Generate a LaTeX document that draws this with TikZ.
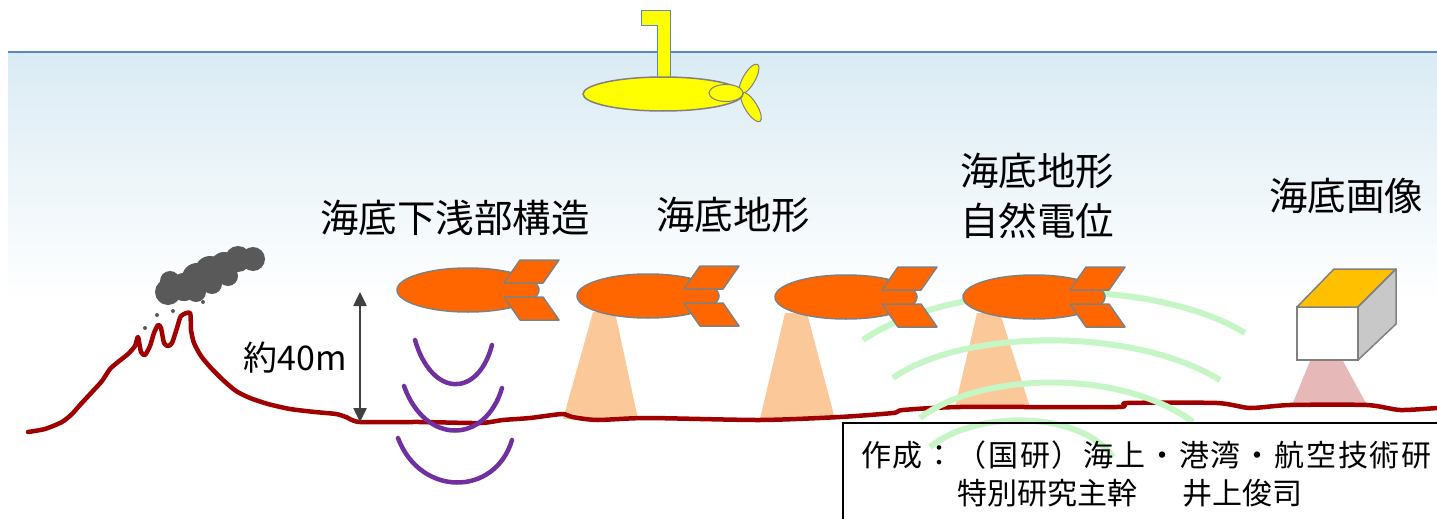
\documentclass[tikz,border=0pt]{standalone}
\usepackage{fontspec}
\setmainfont{Noto Sans CJK JP}
\usetikzlibrary{arrows.meta}

\definecolor{seablue}{RGB}{218,235,244}
\definecolor{surfline}{RGB}{91,135,199}
\definecolor{floatyellow}{RGB}{255,255,0}
\definecolor{auvorange}{RGB}{255,102,0}
\definecolor{rimgray}{RGB}{128,128,128}
\definecolor{beampeach}{RGB}{251,201,153}
\definecolor{camtop}{RGB}{255,192,0}
\definecolor{camside}{RGB}{200,200,200}
\definecolor{campink}{RGB}{230,184,183}
\definecolor{seabed}{RGB}{160,0,0}
\definecolor{sonar}{RGB}{112,48,160}
\definecolor{potential}{RGB}{198,245,198}
\definecolor{smoke}{RGB}{89,89,89}
\definecolor{arrowgray}{RGB}{64,64,64}

\begin{document}
\begin{tikzpicture}[x=1pt,y=-1pt,
  auv/.style={fill=auvorange,draw=rimgray,line width=1.5pt,line join=round},
  sonarwave/.style={draw=sonar,line width=4.5pt,line cap=round},
  fieldline/.style={draw=potential,line width=6pt},
  label/.style={inner sep=0pt,font=\fontsize{38.5}{50}\selectfont},
  credit/.style={inner sep=0pt,anchor=west,font=\fontsize{30}{36}\selectfont}]

  \useasboundingbox (0,0) rectangle (1437,519);

  %% sea
  \shade[top color=seablue,bottom color=white] (8,52) rectangle (1437,300);
  \draw[surfline,line width=2pt] (8,52) -- (1437,52);

  %% surface vehicle
  \draw[fill=floatyellow,draw=surfline,line width=1pt]
    (641,11) -- (670,11) -- (670,78) -- (657,78) -- (657,26) -- (641,26) -- cycle;
  \draw[fill=floatyellow,draw=rimgray,line width=1pt,rotate around={60:(749,79)}]
    (749,79) ellipse [x radius=17pt,y radius=6pt];
  \draw[fill=floatyellow,draw=rimgray,line width=1pt,rotate around={-58:(751,107)}]
    (751,107) ellipse [x radius=17pt,y radius=6pt];
  \draw[fill=floatyellow,draw=rimgray,line width=1.5pt] (663,94) ellipse [x radius=80pt,y radius=17pt];
  \draw[fill=floatyellow,draw=rimgray,line width=1pt] (726,93) ellipse [x radius=17pt,y radius=8.5pt];

  %% smoke
  \fill[smoke] (168,292) circle (13pt) (170,281) circle (10pt) (184,287) circle (14pt)
    (197,278) circle (15pt) (210,271) circle (15pt) (224,266) circle (14pt)
    (238,259) circle (13pt) (253,259) circle (12pt) (196,292) circle (10pt)
    (228,276) circle (10pt) (212,284) circle (10pt);
  \fill[smoke] (145,328) circle (2pt) (157,315) circle (2pt) (173,311) circle (2pt)
    (203,302) circle (2pt) (216,290) circle (2pt);

  %% beams
  \fill[beampeach] (593,312) -- (615,312) -- (638,419) -- (563,419) -- cycle;
  \fill[beampeach] (785,313) -- (807,313) -- (835,419) -- (760,419) -- cycle;
  \fill[beampeach] (977,313) -- (1000,313) -- (1030,407) -- (955,407) -- cycle;
  \fill[campink] (1310,361) -- (1343,361) -- (1367,405) -- (1292,405) -- cycle;

  %% seabed and volcano
  \draw[seabed,line width=4.5pt,line join=round,line cap=round] plot[smooth,tension=0.4] coordinates {
    (28,432) (45,429) (62,422) (72,414) (80,405) (92,392) (102,381) (110,369)
    (118,362) (128,354) (135,346) (138,337) (141,352) (145,355) (150,346) (154,333)
    (158,325) (161,328) (164,343) (168,346) (172,343) (177,328) (181,316) (190,313)
    (191,330) (194,343) (201,356) (211,368) (223,380) (236,391) (250,398) (268,404)
    (290,409) (315,412) (336,414) (346,417) (360,422) (420,422) (480,423) (503,420)
    (530,418) (562,414) (572,417) (597,420) (647,418) (760,420) (840,417) (893,413)
    (903,410) (960,407) (1117,407) (1127,403) (1217,403) (1250,408) (1290,405)
    (1367,405) (1400,410) (1437,408)};

  %% potential field lines
  \draw[fieldline] (863,340) .. controls (950,280) and (1150,275) .. (1245,333);
  \draw[fieldline] (893,378) .. controls (960,330) and (1130,325) .. (1220,380);
  \draw[fieldline] (920,418) .. controls (980,372) and (1120,368) .. (1193,422);
  \draw[fieldline] (930,447) .. controls (975,410) and (1080,410) .. (1113,457);

  %% sub-bottom sonar waves
  \draw[sonarwave] (415,340) .. controls (432,398) and (478,398) .. (492,345);
  \draw[sonarwave] (404,386) .. controls (425,445) and (485,445) .. (502,388);
  \draw[sonarwave] (398,438) .. controls (420,497) and (495,497) .. (512,440);

  %% AUVs
  \begin{scope}[shift={(468,290)}]
    \draw[auv] (0,0) ellipse [x radius=71pt,y radius=22pt];
    \draw[auv] (36,-7) -- (52,-30) -- (91,-30) -- (75,-7) -- cycle;
    \draw[auv] (36,7) -- (52,30) -- (91,30) -- (75,7) -- cycle;
  \end{scope}
  \begin{scope}[shift={(648,296)}]
    \draw[auv] (0,0) ellipse [x radius=71pt,y radius=22pt];
    \draw[auv] (36,-7) -- (52,-30) -- (91,-30) -- (75,-7) -- cycle;
    \draw[auv] (36,7) -- (52,30) -- (91,30) -- (75,7) -- cycle;
  \end{scope}
  \begin{scope}[shift={(846,297)}]
    \draw[auv] (0,0) ellipse [x radius=71pt,y radius=22pt];
    \draw[auv] (36,-7) -- (52,-30) -- (91,-30) -- (75,-7) -- cycle;
    \draw[auv] (36,7) -- (52,30) -- (91,30) -- (75,7) -- cycle;
  \end{scope}
  \begin{scope}[shift={(1034,297)}]
    \draw[auv] (0,0) ellipse [x radius=71pt,y radius=22pt];
    \draw[auv] (36,-7) -- (52,-30) -- (91,-30) -- (75,-7) -- cycle;
    \draw[auv] (36,7) -- (52,30) -- (91,30) -- (75,7) -- cycle;
  \end{scope}

  %% camera
  \draw[fill=white,draw=rimgray,line width=1.5pt] (1297,307) rectangle (1358,360);
  \draw[fill=camtop,draw=rimgray,line width=1.5pt,line join=round]
    (1297,307) -- (1334,269) -- (1396,269) -- (1358,307) -- cycle;
  \draw[fill=camside,draw=rimgray,line width=1.5pt,line join=round]
    (1358,307) -- (1396,269) -- (1396,324) -- (1358,360) -- cycle;

  %% survey labels
  \node[label] (subbottom) at (455,218) {海底下浅部構造};
  \node[label] (topo) at (733,215) {海底地形};
  \node[label,align=center] (topopot) at (1037,196) {海底地形\\自然電位};
  \node[label] (image) at (1346,196) {海底画像};

  %% depth
  \coordinate (dtop) at (360,292);
  \coordinate (dbot) at (360,422);
  \draw[arrowgray,line width=2.5pt,{Triangle[length=14pt,width=13pt]}-{Triangle[length=14pt,width=13pt]}] (dtop) -- (dbot);
  \node[inner sep=0pt,font=\fontsize{34}{40}\selectfont] (depth) at (295,358) {約40m};

  %% credit
  \draw[line width=1.8pt] (843,423) rectangle (1450,530);
  \node[credit,font=\fontsize{30}{36}\selectfont\addfontfeatures{LetterSpace=6}] (maker) at (861,455)
    {作成：（国研）海上・港湾・航空技術研};
  \node[credit] (author) at (957,493) {特別研究主幹\hspace{1.5em}井上俊司};
\end{tikzpicture}
\end{document}
